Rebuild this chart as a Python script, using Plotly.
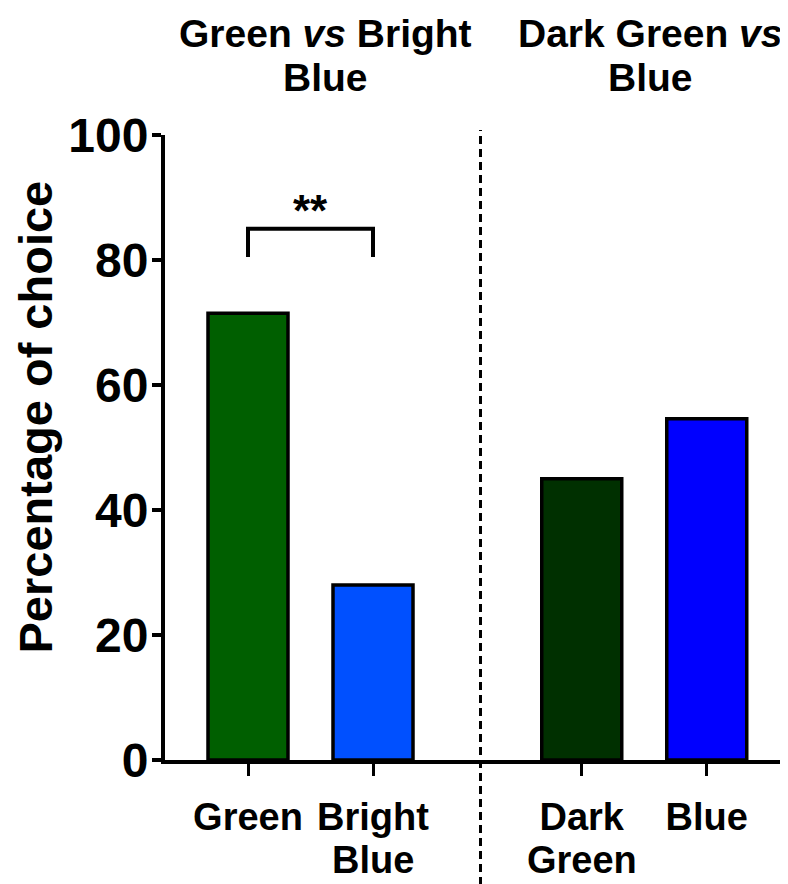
import plotly.graph_objects as go

labels_line1 = ["Green", "Bright", "Dark", "Blue"]
labels_line2 = ["", "Blue", "Green", ""]
positions = [0, 1, 2.67, 3.67]
values = [71.5, 28.0, 45.0, 54.6]
colors = ["#005f00", "#0050ff", "#003000", "#0000ff"]
group_titles = [("Green <i>vs</i> Bright", "Blue"), ("Dark Green <i>vs</i>", "Blue")]
group_centers = [0.62, 3.22]
y_ticks = [0, 20, 40, 60, 80, 100]
sig_pair = (0, 1)
sig_level = 85
sig_drop = 80.5
sig_text = "**"
divider_x = 1.86

FONT = "Liberation Sans, Arial, sans-serif"

fig = go.Figure()
fig.add_trace(go.Bar(
    x=positions, y=values, width=0.64,
    marker=dict(color=colors, line=dict(color="black", width=3.5)),
    showlegend=False,
))

# significance bracket
fig.add_trace(go.Scatter(
    x=[positions[sig_pair[0]], positions[sig_pair[0]], positions[sig_pair[1]], positions[sig_pair[1]]],
    y=[sig_drop, sig_level, sig_level, sig_drop],
    mode="lines", line=dict(color="black", width=4), showlegend=False, hoverinfo="skip",
))
fig.add_annotation(x=(positions[sig_pair[0]] + positions[sig_pair[1]]) / 2, y=sig_level,
                   text=sig_text, showarrow=False, yanchor="bottom", yshift=-8,
                   font=dict(family=FONT, size=44, color="black", weight="bold"))

# divider
fig.add_shape(type="line", xref="x", yref="paper", x0=divider_x, x1=divider_x,
              y0=-0.2, y1=1.008, line=dict(color="black", width=3, dash="8px,5px"))

# second lines of category labels
for pos, txt in zip(positions, labels_line2):
    if txt:
        fig.add_annotation(x=pos, xref="x", y=0, yref="paper", yshift=-100, text=txt,
                           showarrow=False, yanchor="middle",
                           font=dict(family=FONT, size=38, color="black", weight="bold"))

# group titles
for (l1, l2), cx in zip(group_titles, group_centers):
    fig.add_annotation(x=cx, xref="x", y=1.0, yref="paper", yshift=102, text=l1, showarrow=False,
                       yanchor="middle", font=dict(family=FONT, size=39, color="black", weight="bold"))
    fig.add_annotation(x=cx, xref="x", y=1.0, yref="paper", yshift=58, text=l2, showarrow=False,
                       yanchor="middle", font=dict(family=FONT, size=39, color="black", weight="bold"))

# y title
fig.add_annotation(text="Percentage of choice", xref="paper", yref="paper", x=-0.206, y=0.548,
                   textangle=-90, showarrow=False, xanchor="center", yanchor="middle",
                   font=dict(family=FONT, size=47, color="black", weight="bold"))

fig.update_layout(
    width=788, height=884,
    margin=dict(l=157, r=0, t=126.5, b=132),
    plot_bgcolor="white", paper_bgcolor="white",
    font=dict(family=FONT, color="black"),
    xaxis=dict(range=[-0.664, 4.384], tickvals=positions, ticktext=labels_line1,
               showline=True, linecolor="black", linewidth=4, ticks="outside",
               ticklen=12, tickwidth=3, tickcolor="black", showgrid=False, zeroline=False,
               ticklabelstandoff=8,
               tickfont=dict(family=FONT, size=38, color="black", weight="bold")),
    yaxis=dict(range=[0, 100], tickvals=y_ticks, showline=True, linecolor="black",
               linewidth=4, ticks="outside", ticklen=9, tickwidth=4, tickcolor="black",
               showgrid=False, zeroline=False, ticklabelstandoff=-6,
               tickfont=dict(family=FONT, size=48, color="black", weight="bold")),
)

fig.write_html("out.html")
